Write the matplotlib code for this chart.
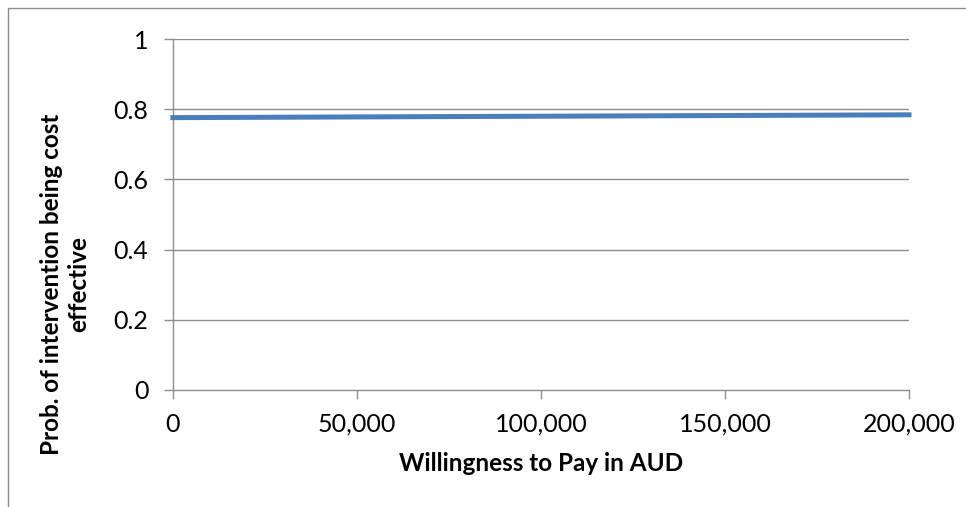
import matplotlib.pyplot as plt
from matplotlib.patches import Rectangle
from matplotlib.ticker import FuncFormatter

# willingness-to-pay thresholds and probability of being cost effective
wtp = [0, 25000, 50000, 75000, 100000, 125000, 150000, 175000, 200000]
prob = [0.776, 0.777, 0.778, 0.779, 0.780, 0.781, 0.782, 0.783, 0.784]

y_ticks = [0, 0.2, 0.4, 0.6, 0.8, 1]
x_ticks = [0, 50000, 100000, 150000, 200000]

plt.rcParams["font.family"] = ["Lato", "DejaVu Sans"]

fig = plt.figure(figsize=(9.66, 5.07), dpi=100)
ax = fig.add_axes([0.179, 0.231, 0.762, 0.692])

grid_col = "#8c8c8c"
for y in y_ticks[1:]:
    ax.axhline(y, color=grid_col, linewidth=1.0, zorder=1)

ax.plot(wtp, prob, color="#4a7ebb", linewidth=3.6, solid_capstyle="projecting", zorder=3, clip_on=False)

ax.set_xlim(0, 200000)
ax.set_ylim(0, 1)
ax.set_xticks(x_ticks)
ax.set_yticks(y_ticks)
ax.xaxis.set_major_formatter(FuncFormatter(lambda v, p: f"{int(v):,}"))
ax.yaxis.set_major_formatter(FuncFormatter(lambda v, p: f"{v:g}"))

for side in ["top", "right"]:
    ax.spines[side].set_visible(False)
for side in ["left", "bottom"]:
    ax.spines[side].set_color(grid_col)
    ax.spines[side].set_linewidth(1.0)

ax.tick_params(axis="both", colors=grid_col, labelcolor="black", labelsize=18, length=6.5, width=1.0)
ax.tick_params(axis="x", pad=10)
ax.tick_params(axis="y", pad=11)

ax.set_xlabel("Willingness to Pay in AUD", fontsize=17.5, fontweight="bold", labelpad=12)

# y title sits lower than the plot centre, as in the original chart
fig.text(65 / 966, 1 - 284 / 507, "Prob. of intervention being cost\neffective", rotation=90,
         ha="center", va="center", fontsize=17.5, fontweight="bold", linespacing=1.2)

# chart border (only top and left edges visible in the crop)
fig.patches.append(Rectangle((8 / 966, -0.5), 2.0, 1.0 - 8 / 507 + 0.5, transform=fig.transFigure,
                             fill=False, edgecolor="#8c8c8c", linewidth=1.0))

fig.savefig("out.png", dpi=100)
